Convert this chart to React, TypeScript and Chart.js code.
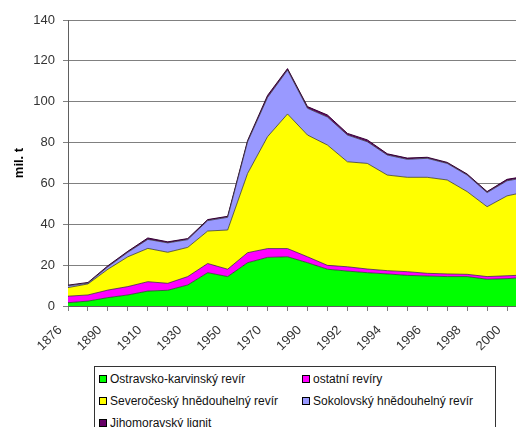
import React, { useEffect, useRef } from 'react';
import { Chart, registerables } from 'chart.js';

Chart.register(...registerables);

const years = ['1876', '1880', '1890', '1900', '1910', '1920', '1930', '1940', '1950', '1960', '1970', '1980', '1990', '1991', '1992', '1993', '1994', '1995', '1996', '1997', '1998', '1999', '2000', '2001'];

const ostravsko = [1.6, 2.4, 4.1, 5.4, 7.3, 7.7, 10.3, 16.3, 14.4, 21.2, 23.8, 24.1, 21.2, 18.0, 17.1, 16.3, 15.7, 15.0, 14.7, 14.4, 14.4, 13.1, 13.4, 14.0];
const ostatni = [3.2, 3.0, 3.7, 4.1, 4.6, 3.4, 4.1, 4.5, 3.6, 4.9, 4.3, 4.0, 2.9, 1.9, 2.1, 1.8, 1.6, 1.8, 1.3, 1.3, 1.1, 1.3, 1.4, 1.2];
const severocesky = [4.2, 5.4, 10.2, 14.6, 16.3, 15.2, 14.3, 15.9, 19.2, 38.8, 54.8, 65.9, 59.6, 58.9, 51.4, 51.7, 46.8, 46.2, 47.0, 46.0, 40.5, 34.2, 39.1, 40.8];
const sokolovsky = [0.9, 0.4, 1.2, 2.2, 4.4, 4.6, 3.8, 5.1, 6.2, 15.5, 19.2, 21.5, 13.1, 13.7, 13.1, 10.6, 9.8, 8.8, 9.3, 8.1, 8.1, 6.9, 7.4, 7.0];
const jihomoravsky = [0.3, 0.3, 0.5, 0.5, 0.7, 0.5, 0.5, 0.5, 0.5, 0.6, 1.0, 0.7, 0.8, 1.0, 0.8, 0.9, 0.6, 0.6, 0.5, 0.5, 0.5, 0.5, 0.7, 0.6];

const seriesNames = ['Ostravsko-karvinský revír', 'ostatní revíry', 'Severočeský hnědouhelný revír', 'Sokolovský hnědouhelný revír', 'Jihomoravský lignit'];
const seriesColors = ['#00FF00', '#FF00FF', '#FFFF00', '#9999FF', '#660066'];
const seriesData = [ostravsko, ostatni, severocesky, sokolovsky, jihomoravsky];

const yMin = 0;
const yMax = 140;
const yStep = 20;
const yTitle = 'mil. t';

const legendOrder = [0, 1, 2, 3, 4];

const CANVAS_W = 540;
const CANVAS_H = 362;
const PLOT_BOTTOM = 306;
const FONT = 'Liberation Sans, Arial, sans-serif';

// draws the rotated category labels (every second category) under the x-axis tick marks
const rotatedXLabels = {
  id: 'rotatedXLabels',
  afterDraw(chart: any) {
    const xs = chart.scales.x;
    const ctx = chart.ctx;
    ctx.save();
    ctx.font = `13px ${FONT}`;
    ctx.fillStyle = '#333333';
    ctx.textAlign = 'right';
    ctx.textBaseline = 'middle';
    years.forEach((lab, i) => {
      if (i % 2 !== 0) return;
      const px = xs.getPixelForTick(i);
      ctx.save();
      ctx.translate(px - 8, xs.top + 22);
      ctx.rotate(-Math.PI / 4);
      ctx.fillText(lab, 0, 0);
      ctx.restore();
    });
    ctx.restore();
  },
};

export default function App() {
  const ref = useRef<HTMLCanvasElement | null>(null);

  useEffect(() => {
    if (!ref.current) return;
    const chart = new Chart(ref.current, {
      type: 'line',
      data: {
        labels: years,
        datasets: seriesData.map((d, i) => ({
          label: seriesNames[i],
          data: d,
          backgroundColor: seriesColors[i],
          borderColor: i === 4 ? '#330033' : 'rgba(50,50,50,0.75)',
          borderWidth: 1,
          pointRadius: 0,
          tension: 0,
          fill: i === 0 ? 'origin' : '-1',
        })),
      },
      plugins: [rotatedXLabels],
      options: {
        responsive: false,
        animation: false,
        layout: { padding: { top: 20, right: CANVAS_W - 527, left: 0, bottom: 0 } },
        plugins: {
          legend: { display: false },
          tooltip: { enabled: false },
        },
        scales: {
          x: {
            offset: false,
            grid: {
              drawOnChartArea: false,
              drawTicks: true,
              tickLength: 5,
              color: '#808080',
            },
            border: { display: true, color: '#606060', width: 1 },
            ticks: {
              display: false,
              autoSkip: false,
            },
            afterFit: (scale: any) => {
              scale.height = CANVAS_H - PLOT_BOTTOM;
            },
          },
          y: {
            stacked: true,
            min: yMin,
            max: yMax,
            grid: {
              color: '#808080',
              lineWidth: 1,
              tickLength: 5,
            },
            border: { display: true, color: '#606060', width: 1 },
            ticks: {
              stepSize: yStep,
              color: '#333333',
              padding: 8,
              font: { family: FONT, size: 13 },
            },
            title: {
              display: true,
              text: yTitle,
              color: '#000000',
              padding: { top: 12, bottom: 0 },
              font: { family: FONT, size: 13, weight: 'bold' },
            },
            afterFit: (scale: any) => {
              scale.width = 68;
            },
          },
        },
      },
    });
    return () => chart.destroy();
  }, []);

  const itemStyle = (col: number, row: number): React.CSSProperties => ({
    position: 'absolute',
    left: col === 0 ? 4 : 207,
    top: 5 + row * 22,
    height: 14,
    display: 'flex',
    alignItems: 'center',
    whiteSpace: 'nowrap',
  });

  return (
    <div style={{ position: 'absolute', left: 0, top: 0, width: 516, height: 427, overflow: 'hidden', background: '#fff' }}>
      <canvas ref={ref} width={CANVAS_W} height={CANVAS_H} style={{ position: 'absolute', left: 0, top: 0, width: CANVAS_W, height: CANVAS_H }} />
      <div
        style={{
          position: 'absolute',
          left: 94,
          top: 366,
          width: 402,
          height: 80,
          border: '1px solid #333',
          boxSizing: 'border-box',
          fontFamily: FONT,
          fontSize: 12,
          color: '#111',
        }}
      >
        {legendOrder.map((si, k) => (
          <div key={si} style={itemStyle(k % 2, Math.floor(k / 2))}>
            <span
              style={{
                display: 'inline-block',
                width: 6,
                height: 6,
                background: seriesColors[si],
                border: '1px solid #000',
                marginRight: 3,
                boxSizing: 'content-box',
              }}
            />
            <span>{seriesNames[si]}</span>
          </div>
        ))}
      </div>
    </div>
  );
}
